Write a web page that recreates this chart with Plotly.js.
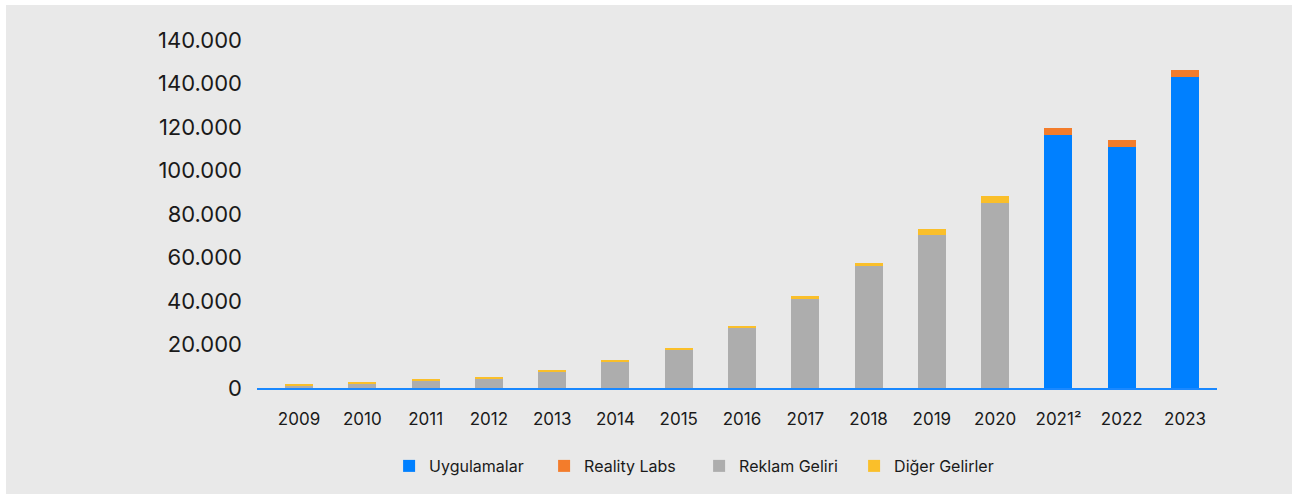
<!DOCTYPE html>
<html>
<head>
<meta charset="utf-8">
<script src="https://cdn.plot.ly/plotly-3.0.1.min.js"></script>
<style>
html,body{margin:0;padding:0;background:#ffffff;}
#chart{position:absolute;left:6px;top:5px;width:1286px;height:489px;}
</style>
</head>
<body>
<div id="chart"></div>
<script>
var categories = ['2009','2010','2011','2012','2013','2014','2015','2016','2017','2018','2019','2020','2021','2022','2023'];
var tickLabels = ['2009','2010','2011','2012','2013','2014','2015','2016','2017','2018','2019','2020','2021²','2022','2023'];

var uygulamalar   = [null,null,null,null,null,null,null,null,null,null,null,null,116500,111000,143100];
var realityLabs   = [null,null,null,null,null,null,null,null,null,null,null,null,3200,3200,3200];
var reklamGeliri  = [900,1800,3200,4100,7300,11900,17400,27500,40800,56000,70200,84900,null,null,null];
var digerGelirler = [900,900,900,900,900,900,900,900,1300,1300,2750,3200,null,null,null];

var yTickVals  = [0,20000,40000,60000,80000,100000,120000,140000,160000];
var yTickText  = ['0','20.000','40.000','60.000','80.000','100.000','120.000','140.000','140.000'];

var barW = 0.442;
function tr(name, vals, color){
  return {type:'bar', name:name, x:categories, y:vals, width:barW,
          marker:{color:color, line:{width:0}}, hoverinfo:'skip'};
}
var data = [
  tr('Uygulamalar', uygulamalar, '#0080ff'),
  tr('Reality Labs', realityLabs, '#f37c2b'),
  tr('Reklam Geliri', reklamGeliri, '#adadad'),
  tr('Diğer Gelirler', digerGelirler, '#fabf2a')
];

var layout = {
  width:1286, height:489,
  paper_bgcolor:'#e9e9e9', plot_bgcolor:'#e9e9e9',
  margin:{l:251, r:75, t:35, b:105, pad:0},
  barmode:'stack',
  showlegend:true,
  font:{family:'Inter, sans-serif', color:'#1a1a1a'},
  xaxis:{
    type:'category',
    range:[-0.664, 14.505],
    tickmode:'array', tickvals:categories, ticktext:tickLabels,
    tickfont:{family:'Inter, sans-serif', size:17, color:'#1a1a1a'},
    showgrid:false, zeroline:false,
    showline:true, linecolor:'#1a88ff', linewidth:2,
    ticks:'', ticklabelstandoff:15
  },
  yaxis:{
    range:[0,160000],
    tickmode:'array', tickvals:yTickVals, ticktext:yTickText,
    tickfont:{family:'Inter, sans-serif', size:22, color:'#1a1a1a'},
    showgrid:false, zeroline:false, showline:false,
    ticks:'', ticklabelstandoff:14
  },
  legend:{
    orientation:'h', x:0.1376, xanchor:'left', y:-0.2206, yanchor:'middle',
    font:{family:'Inter, sans-serif', size:16, color:'#1a1a1a'},
    entrywidth:110, entrywidthmode:'pixels',
    traceorder:'normal', bgcolor:'rgba(0,0,0,0)'
  }
};
Plotly.newPlot('chart', data, layout, {displayModeBar:false, staticPlot:true});
</script>
</body>
</html>
